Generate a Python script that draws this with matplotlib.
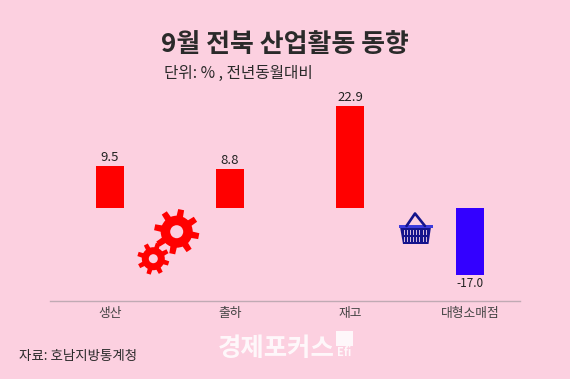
import numpy as np
import matplotlib
matplotlib.use("Agg")
import matplotlib.pyplot as plt
from matplotlib.patches import Polygon, Circle, Rectangle

plt.rcParams['font.family'] = ['Noto Sans CJK KR', 'DejaVu Sans']

categories = ['생산', '출하', '재고', '대형소매점']
# 원본 막대 길이 그대로 읽은 값 (대형소매점 막대는 라벨 -17.0보다 짧게 그려져 있음)
bar_heights = [9.5, 8.8, 22.9, -15.1]
value_labels = ['9.5', '8.8', '22.9', '-17.0']
bar_colors = ['#ff0000', '#ff0000', '#ff0000', '#3300ff']

BG = '#fcd0e0'
W, H = 570, 379


def gear(ax, cx, cy, r_out, r_in, r_hole, w, teeth=8, rot=0.0, color='#ff0000'):
    for i in range(teeth):
        a = rot + i * 2 * np.pi / teeth
        c, s = np.cos(a), np.sin(a)
        pts = [(cx + r * c - t * s, cy + r * s + t * c)
               for r, t in [(r_in - 2, -w * 1.1), (r_out, -w), (r_out, w), (r_in - 2, w * 1.1)]]
        ax.add_patch(Polygon(pts, closed=True, fc=color, ec='none'))
    ax.add_patch(Circle((cx, cy), r_in, fc=color, ec='none'))
    ax.add_patch(Circle((cx, cy), r_hole, fc=BG, ec='none'))


def basket(ax):
    navy = '#14148c'
    ax.plot([406.5, 415, 425], [226, 213.5, 226], color=navy, lw=1.9, solid_capstyle='round')
    ax.add_patch(Polygon([(400, 227), (431, 227), (428.5, 244), (403, 244)], closed=True, fc=navy, ec='none'))
    ax.add_patch(Rectangle((398.5, 224.5), 34.5, 3, fc='#3c3cdc', ec='none'))
    for x in np.arange(403.5, 429, 3.2):
        ax.plot([x, x], [229.5, 234], color='#d8c0e0', lw=0.7)
        ax.plot([x, x], [236.5, 241], color='#d8c0e0', lw=0.7)


fig = plt.figure(figsize=(W / 100, H / 100), dpi=100, facecolor=BG)

# 막대 축: 0선은 y=208px, 축선은 y=301px
ax = fig.add_axes([50 / W, 1 - 301 / H, 470 / W, 211 / H])
ax.set_facecolor('none')
x = np.arange(len(categories))
ax.bar(x, bar_heights, width=0.23, color=bar_colors)
for xi, v, s in zip(x, bar_heights, value_labels):
    if v >= 0:
        ax.annotate(s, (xi, v), xytext=(0, 1.5), textcoords='offset points', ha='center', va='bottom',
                    fontsize=9.5, color='#222222')
    else:
        ax.annotate(s, (xi, v), xytext=(0, -1), textcoords='offset points', ha='center', va='top',
                    fontsize=8.5, color='#222222')
ax.set_xlim(-0.5, 3.417)
ax.set_ylim(-20.9, 26.5)
ax.set_xticks(x)
ax.set_xticklabels(categories, fontsize=9.2, color='#444444')
ax.tick_params(axis='x', length=0, pad=4)
ax.set_yticks([])
for s in ['top', 'left', 'right']:
    ax.spines[s].set_visible(False)
ax.spines['bottom'].set_color('#c0aab4')
ax.spines['bottom'].set_linewidth(1)

# 장식과 글자용 픽셀 좌표 축
deco = fig.add_axes([0, 0, 1, 1])
deco.set_xlim(0, W)
deco.set_ylim(H, 0)
deco.axis('off')
deco.patch.set_alpha(0)

gear(deco, 176.7, 231.7, 22.5, 16, 6.5, 3.0, rot=0.2)
gear(deco, 153.3, 258.7, 16, 11.5, 4.5, 2.2, rot=0.3)
basket(deco)

deco.text(285, 45, '9월 전북 산업활동 동향', ha='center', va='center', fontsize=18.7,
          fontweight='bold', color='#2a2a2a')
deco.text(164, 73, '단위: % , 전년동월대비', ha='left', va='center', fontsize=11.3, color='#2a2a2a')
deco.text(19, 356, '자료: 호남지방통계청', ha='left', va='center', fontsize=9.7, color='#2a2a2a')
deco.text(218, 348, '경제포커스', ha='left', va='center', fontsize=18.3, fontweight='bold',
          color='white', alpha=0.85)
deco.add_patch(Rectangle((336, 331), 17, 15, fc='white', ec='none', alpha=0.85))
deco.text(344.5, 353, 'Efi', ha='center', va='center', fontsize=8, fontweight='bold', color='white', alpha=0.85)

fig.savefig('out.png', dpi=100, facecolor=BG)
